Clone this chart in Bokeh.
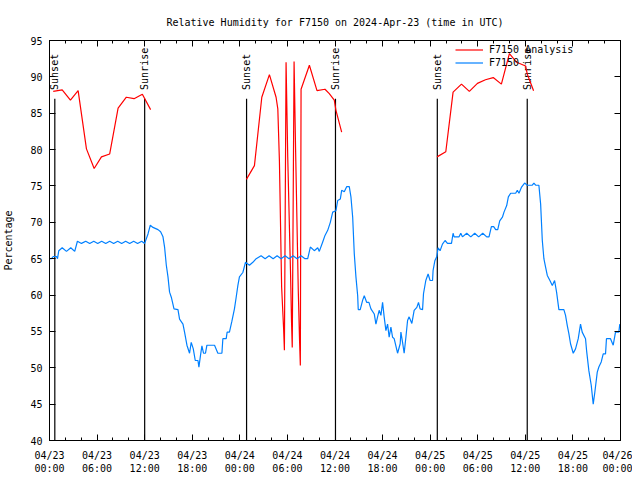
import numpy as np
import pandas as pd
from bokeh.plotting import figure
from bokeh.models import (Range1d, FixedTicker, DatetimeTickFormatter, LinearAxis,
                          CustomJSTickFormatter, Legend, LegendItem)
from bokeh.core.properties import value
from bokeh.embed import file_html
from bokeh.resources import INLINE

FONT = "DejaVu Sans Mono"
START = pd.Timestamp("2024-04-23 00:00")

# ---- data (hours since 2024-04-23 00:00 UTC) ----
an1_h = [0.47, 1.60, 2.64, 3.61, 4.66, 5.63, 6.55, 7.59, 8.65, 9.69, 10.66, 11.71, 12.75]
an1_v = [88.0, 88.2, 86.8, 88.1, 80.1, 77.4, 79.0, 79.4, 85.7, 87.2, 87.0, 87.6, 85.5]

an2_h = [24.83, 25.84, 26.77, 27.73, 28.57, 28.79, 28.99, 29.27, 29.52, 29.62, 29.83, 30.04,
         30.40, 30.52, 30.61, 30.84, 31.03, 31.37, 31.53, 31.63, 31.72, 32.77, 33.73, 34.74,
         35.28, 35.91, 36.12, 36.84]
an2_v = [75.9, 77.8, 87.2, 90.3, 87.2, 85.6, 78.5, 61.1, 55.4, 52.4, 92.0, 79.0,
         62.7, 56.3, 52.8, 92.1, 80.0, 60.6, 53.8, 50.3, 88.3, 91.6, 88.1, 88.3,
         87.7, 86.8, 85.4, 82.4]

an3_h = [48.87, 49.97, 50.89, 51.95, 52.94, 53.96, 54.97, 55.95, 56.98, 57.99, 58.91, 60.03, 60.24, 61.04]
an3_v = [79.0, 79.7, 87.9, 89.0, 88.0, 89.1, 89.6, 89.9, 89.0, 93.2, 92.0, 91.5, 90.4, 88.1]

obs_h = [0.00, 0.25, 0.47, 0.88, 1.01, 1.17, 1.60, 2.14, 2.68, 3.18, 3.52, 4.03, 4.57, 5.07,
         5.58, 6.08, 6.58, 7.09, 7.59, 8.09, 8.60, 9.10, 9.60, 10.11, 10.61, 11.11, 11.62, 12.00,
         12.42, 12.71, 13.05, 13.68, 14.01, 14.31, 14.51, 14.73, 14.94, 15.14, 15.36, 15.70,
         16.20, 16.40, 16.83, 17.03, 17.33, 17.66, 17.87, 18.13, 18.38, 18.72, 18.84, 19.04,
         19.22, 19.42, 19.67, 19.85, 20.81, 21.23, 21.74, 21.86, 22.28, 22.40, 22.69, 23.00,
         23.32, 23.54, 23.75, 23.95, 24.38, 24.71, 25.21, 25.64, 26.06, 26.68, 27.19, 27.69,
         28.20, 28.70, 29.20, 29.71, 30.21, 30.71, 31.22, 31.72, 32.22, 32.56, 32.89, 33.39,
         33.82, 34.02, 34.45, 34.74, 35.08, 35.41, 35.71, 36.12, 36.34, 36.67, 36.84, 37.17,
         37.47, 37.80, 38.01, 38.23, 38.43, 38.64, 38.86, 38.93, 39.18, 39.49, 39.69, 39.99,
         40.28, 40.53, 40.95, 41.16, 41.37, 41.57, 41.79, 42.00, 42.20, 42.42, 42.63, 42.83,
         43.05, 43.26, 43.46, 43.89, 44.22, 44.31, 44.52, 44.72, 44.94, 45.15, 45.35, 45.69,
         45.98, 46.32, 46.53, 46.73, 47.04, 47.16, 47.45, 47.74, 47.99, 48.30, 48.37, 48.59,
         48.84, 49.00, 49.25, 49.55, 49.88, 50.18, 50.69, 50.89, 51.02, 51.64, 51.86, 52.07,
         52.61, 53.12, 53.62, 54.12, 54.63, 55.13, 55.42, 55.72, 56.01, 56.26, 56.52, 56.77,
         57.11, 57.31, 57.65, 57.86, 58.15, 58.78, 58.99, 59.20, 59.50, 59.91, 60.25, 60.88,
         61.08, 61.30, 61.71, 61.93, 62.14, 62.34, 62.56, 62.77, 63.10, 63.40, 63.69, 63.94,
         64.23, 64.86, 65.07, 65.29, 65.49, 65.70, 66.04, 66.33, 66.67, 66.96, 67.17, 67.59,
         67.72, 68.01, 68.31, 68.56, 68.76, 69.07, 69.27, 69.57, 69.82, 70.11, 70.23, 70.74,
         71.08, 71.37, 71.79, 71.91]
obs_v = [65.0, 65.0, 65.3, 65.3, 65.0, 66.1, 66.5, 66.0, 66.5, 66.0, 67.4, 67.1, 67.4, 67.1,
         67.4, 67.1, 67.4, 67.1, 67.4, 67.1, 67.4, 67.1, 67.4, 67.1, 67.4, 67.1, 67.4, 67.1,
         68.4, 69.6, 69.3, 69.0, 68.7, 68.0, 66.6, 64.1, 62.5, 60.4, 59.7, 58.1,
         58.0, 56.7, 56.0, 54.9, 53.1, 52.0, 53.5, 52.6, 51.0, 51.0, 50.1, 51.7,
         53.0, 52.0, 52.0, 53.1, 53.1, 52.0, 52.0, 54.0, 54.0, 54.9, 54.9, 56.4,
         58.1, 59.7, 61.3, 62.5, 63.1, 64.5, 64.1, 64.5, 65.0, 65.4, 65.0, 65.4,
         65.0, 65.4, 65.0, 65.4, 65.0, 65.4, 65.0, 65.4, 65.0, 65.0, 66.6, 66.1,
         66.5, 66.0, 67.3, 68.2, 68.9, 70.0, 71.4, 71.6, 73.0, 73.2, 74.4, 74.2,
         74.9, 74.9, 73.5, 70.7, 65.7, 62.5, 59.9, 58.0, 58.0, 59.3, 59.9, 59.0,
         59.0, 58.1, 57.4, 56.0, 57.0, 57.9, 57.2, 59.0, 57.0, 55.1, 56.0, 54.2,
         55.6, 54.2, 54.0, 52.0, 53.3, 54.9, 53.5, 52.0, 54.2, 56.5, 57.0, 56.1,
         57.9, 58.3, 59.0, 58.1, 58.0, 60.2, 62.0, 62.9, 62.0, 62.0, 63.4, 64.7,
         65.3, 66.5, 66.1, 67.0, 67.5, 67.1, 67.1, 68.5, 68.0, 68.0, 68.5, 68.0,
         68.5, 68.0, 68.5, 68.0, 68.5, 68.0, 68.0, 69.4, 69.4, 69.0, 69.0, 70.2,
         70.7, 71.4, 72.3, 73.5, 74.0, 74.0, 74.4, 74.0, 74.8, 75.4, 75.1, 75.1,
         75.4, 75.1, 75.1, 72.5, 67.5, 65.0, 63.8, 62.7, 62.0, 61.3, 62.0, 60.4,
         58.0, 58.0, 57.2, 55.8, 54.7, 53.3, 52.0, 52.6, 54.0, 56.0, 54.9, 54.0,
         52.4, 49.6, 47.6, 45.0, 46.6, 49.4, 50.1, 50.8, 51.9, 51.9, 54.0, 54.0,
         53.1, 54.9, 54.9, 56.0]

sun_h = [0.67, 12.00, 24.85, 36.06, 48.90, 60.24]
sun_labels = ["Sunset", "Sunrise", "Sunset", "Sunrise", "Sunset", "Sunrise"]
sun_line_top = 87.0
sun_label_y = 88.2

y_min, y_max = 40, 95
tick_hours = list(range(0, 73, 6))
minor_hours = list(range(0, 73, 2))


def to_time(hours):
    return START + pd.to_timedelta(np.asarray(hours, dtype=float), unit="h")


def to_ms(hours):
    return [(START + pd.Timedelta(hours=h)).value / 1e6 for h in hours]


p = figure(width=632, height=476, output_backend="svg", toolbar_location=None,
           x_axis_type="datetime",
           x_range=Range1d(to_time([0])[0], to_time([72])[0]),
           y_range=Range1d(y_min, y_max),
           min_border_left=48, min_border_right=12, min_border_top=40, min_border_bottom=36)
p.xgrid.visible = False
p.ygrid.visible = False
p.outline_line_color = "black"
p.outline_line_width = 1
p.background_fill_color = "white"
p.border_fill_color = "white"

p.title.text = "Relative Humidity for F7150 on 2024-Apr-23 (time in UTC)"
p.title.align = "center"
p.title.text_font = FONT
p.title.text_font_size = "10px"
p.title.text_font_style = "normal"
p.title.text_color = "black"
p.title.standoff = 26

# sunrise/sunset markers
sun_t = to_time(sun_h)
p.segment(x0=sun_t, x1=sun_t, y0=[sun_line_top] * len(sun_h), y1=[y_min] * len(sun_h),
          line_color="black", line_width=1.2)
p.text(x=sun_t, y=[sun_label_y] * len(sun_h), text=sun_labels, angle=np.pi / 2,
       text_align="left", text_baseline="middle", text_font=value(FONT),
       text_font_size="10px", text_color="black")

# analysis (red) in three segments
r1 = p.line(to_time(an1_h), an1_v, line_color="#ff0000", line_width=1.2)
p.line(to_time(an2_h), an2_v, line_color="#ff0000", line_width=1.2)
p.line(to_time(an3_h), an3_v, line_color="#ff0000", line_width=1.2)
# observation (blue)
r2 = p.line(to_time(obs_h), obs_v, line_color="#0080ff", line_width=1.2)

# axes
xt = FixedTicker(ticks=to_ms(tick_hours), minor_ticks=to_ms(minor_hours))
fmt = "%m/%d\n%H:%M"
xf = DatetimeTickFormatter(milliseconds=fmt, seconds=fmt, minsec=fmt, minutes=fmt,
                           hourmin=fmt, hours=fmt, days=fmt, months=fmt, years=fmt)
yt = FixedTicker(ticks=list(range(y_min, y_max + 1, 5)), minor_ticks=[])

for ax in p.xaxis:
    ax.ticker = xt
    ax.formatter = xf
    ax.major_label_standoff = 9
for ax in p.yaxis:
    ax.ticker = yt
    ax.axis_label = "Percentage"
    ax.axis_label_standoff = 13
    ax.axis_label_text_font_style = "normal"
    ax.major_label_standoff = 7

for ax in list(p.xaxis) + list(p.yaxis):
    ax.major_tick_in = 6
    ax.major_tick_out = 0
    ax.minor_tick_in = 3
    ax.minor_tick_out = 0
    ax.major_label_text_font = FONT
    ax.major_label_text_font_size = "10px"
    ax.major_label_text_color = "black"
    ax.axis_label_text_font = FONT
    ax.axis_label_text_font_size = "10px"
    ax.axis_label_text_color = "black"
    ax.axis_line_color = "black"

blank = CustomJSTickFormatter(code="return ''")
top = LinearAxis(ticker=xt, formatter=blank, major_tick_in=6, major_tick_out=0,
                 minor_tick_in=3, minor_tick_out=0, major_label_standoff=0,
                 major_label_text_font_size="1px")
right = LinearAxis(ticker=yt, formatter=blank, major_tick_in=6, major_tick_out=0,
                   minor_tick_in=0, minor_tick_out=0, major_label_standoff=0,
                   major_label_text_font_size="1px")
p.add_layout(top, "above")
p.add_layout(right, "right")

legend = Legend(items=[LegendItem(label="F7150 Analysis", renderers=[r1]),
                       LegendItem(label="F7150", renderers=[r2])],
                location=(406, 372), border_line_color=None, background_fill_alpha=0,
                label_text_font=FONT, label_text_font_size="10px", label_text_color="black",
                glyph_width=28, glyph_height=11, label_height=11, spacing=2, padding=2,
                margin=0, label_standoff=6)
p.add_layout(legend)

open("out.html", "w").write(file_html(p, INLINE))
